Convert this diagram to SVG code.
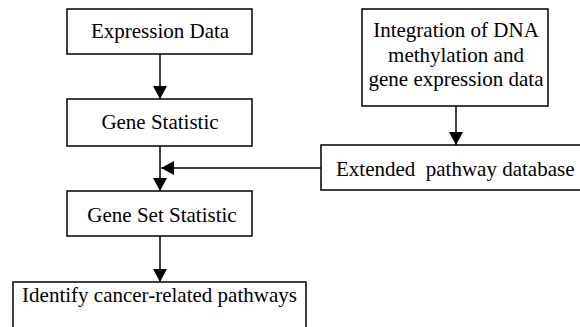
<svg xmlns="http://www.w3.org/2000/svg" width="580" height="327" viewBox="0 0 580 327">
<style>
.box{fill:#fff;stroke:#000;stroke-width:1.5}
.t{font-family:"Liberation Serif","Times New Roman",serif;font-size:21px;fill:#000}
.c{text-anchor:middle}
.ln{fill:none;stroke:#000;stroke-width:1.5}
</style>
<defs>
<marker id="ah" markerUnits="userSpaceOnUse" markerWidth="14" markerHeight="14" viewBox="0 0 14 14" refX="13" refY="7" orient="auto">
<path d="M0,0 L13,7 L0,14 Z" fill="#000"/>
</marker>
</defs>
<g id="connectors">
<line class="ln" x1="160" y1="54" x2="160" y2="99" marker-end="url(#ah)"/>
<line class="ln" x1="160" y1="146" x2="160" y2="191" marker-end="url(#ah)"/>
<line class="ln" x1="160" y1="236" x2="160" y2="282" marker-end="url(#ah)"/>
<line class="ln" x1="456" y1="106" x2="456" y2="145" marker-end="url(#ah)"/>
<line class="ln" x1="321" y1="168" x2="161" y2="168" marker-end="url(#ah)"/>
</g>
<g id="expression-data">
<rect class="box" x="67" y="9" width="185" height="45"/>
<text class="t c" x="160" y="38">Expression Data</text>
</g>
<g id="gene-statistic">
<rect class="box" x="67" y="99" width="185" height="47"/>
<text class="t c" x="160" y="129">Gene Statistic</text>
</g>
<g id="gene-set-statistic">
<rect class="box" x="67" y="191" width="185" height="45"/>
<text class="t c" x="162" y="222">Gene Set Statistic</text>
</g>
<g id="identify">
<rect class="box" x="13" y="282" width="293" height="50"/>
<text class="t c" x="159.5" y="302">Identify cancer-related pathways</text>
</g>
<g id="integration">
<rect class="box" x="362" y="9" width="186" height="97"/>
<text class="t c" x="456" y="37">Integration of DNA</text>
<text class="t c" x="456" y="62">methylation and</text>
<text class="t c" x="456" y="86">gene expression data</text>
</g>
<g id="extended-pathway">
<rect class="box" x="321" y="145" width="270" height="45"/>
<text class="t" x="336" y="176" xml:space="preserve" style="white-space:pre">Extended  pathway database</text>
</g>
</svg>
